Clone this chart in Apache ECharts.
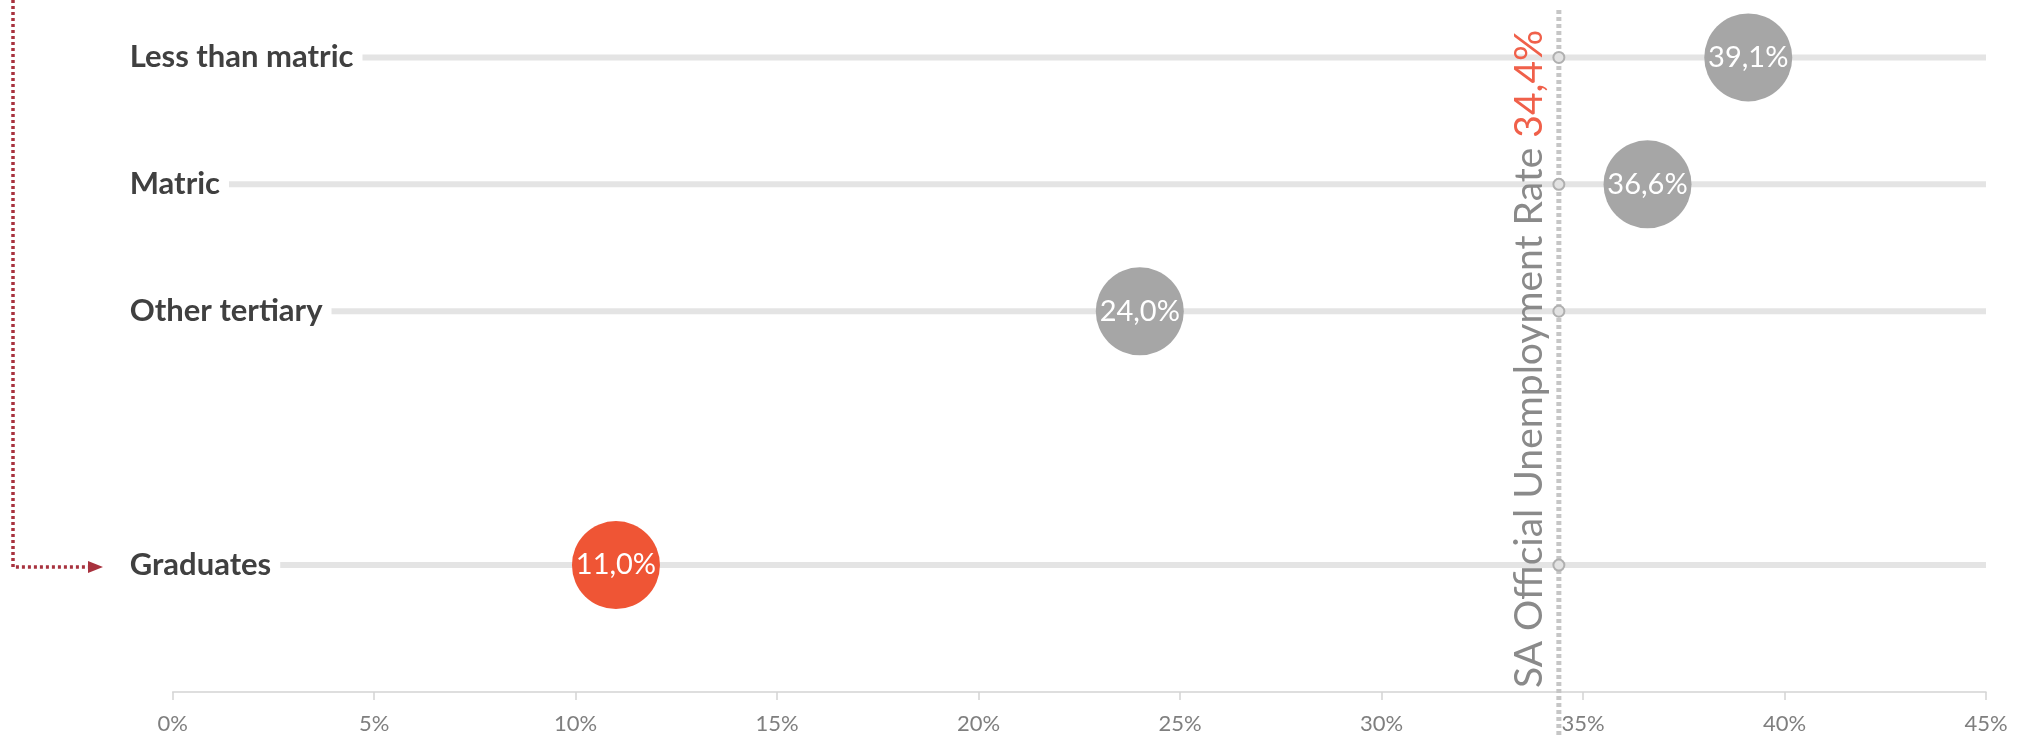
<!DOCTYPE html>
<html><head><meta charset="utf-8">
<script src="https://cdn.jsdelivr.net/npm/echarts@6/dist/echarts.min.js"></script>
<style>html,body{margin:0;padding:0;background:#fff}#c{width:2021px;height:736px}</style>
</head><body><div id="c"></div>
<script>
// ---- data ----
const categories = ['Less than matric', 'Matric', 'Other tertiary', '', 'Graduates'];
const rates = [39.1, 36.6, 24.0, null, 11.0];
const highlightCategory = 'Graduates';
const officialRate = 34.4;
const referenceLabel = 'SA Official Unemployment Rate';
const xMin = 0, xMax = 45, xStep = 5;

// ---- helpers ----
const fmt = v => v.toFixed(1).replace('.', ',') + '%';
const rowY = i => categories.length - i;
const rows = categories.map((c, i) => ({ name: c, y: rowY(i), v: rates[i] })).filter(r => r.name);
const yTop = categories.length + 0.374;

const FONT = 'Lato, "Open Sans", sans-serif';
const GREY = '#a6a6a6', RED = '#ef5535', DARKRED = '#a8323e';

const chart = echarts.init(document.getElementById('c'), null, { renderer: 'canvas' });

const option = {
  animation: false,
  backgroundColor: '#fff',
  grid: { left: 172.7, right: 35, top: 10, bottom: 44, containLabel: false, outerBoundsMode: 'none' },
  xAxis: {
    type: 'value', min: xMin, max: xMax, interval: xStep,
    axisLine: { show: true, onZero: false, lineStyle: { color: '#d4d4d4', width: 1.5 } },
    axisTick: { show: true, length: 8, lineStyle: { color: '#d4d4d4', width: 1.5 } },
    axisLabel: { formatter: '{value}%', color: '#7f7f7f', fontSize: 22, fontFamily: FONT, margin: 21 },
    splitLine: { show: false }
  },
  yAxis: { type: 'value', min: 0, max: yTop, show: false },
  series: [
    {
      // row guide lines + category labels
      type: 'custom', z: 1, silent: true,
      data: rows.map(r => [xMax, r.y]),
      encode: { x: 0, y: 1 },
      renderItem(params, api) {
        const r = rows[params.dataIndex];
        const s = api.coord([xMin, api.value(1)]);
        const e = api.coord([api.value(0), api.value(1)]);
        return {
          type: 'group', children: [
            { type: 'line', shape: { x1: s[0], y1: s[1], x2: e[0], y2: e[1] },
              style: { stroke: '#e4e4e4', lineWidth: 6 } },
            { type: 'text', x: s[0] - 43, y: s[1], z2: 10,
              style: { text: r.name, fill: '#404040', font: 'bold 31px ' + FONT,
                align: 'left', verticalAlign: 'middle', backgroundColor: '#fff', padding: [4, 9, 4, 0] } }
          ]
        };
      }
    },
    {
      // official rate reference line + rotated label
      type: 'custom', z: 2, silent: true, clip: false,
      data: [[officialRate, yTop]],
      encode: { x: 0, y: 1 },
      renderItem(params, api) {
        const top = api.coord([api.value(0), api.value(1)]);
        const bottomY = api.getHeight();
        return {
          type: 'group', children: [
            { type: 'line', shape: { x1: top[0], y1: top[1], x2: top[0], y2: bottomY },
              style: { stroke: '#c6c6c6', lineWidth: 5, lineDash: [4, 3] } },
            { type: 'text', x: top[0] - 10, y: bottomY - 48, rotation: Math.PI / 2,
              style: {
                text: '{a|' + referenceLabel + ' }{b|' + fmt(api.value(0)) + '}',
                align: 'left', verticalAlign: 'bottom',
                rich: {
                  a: { fill: '#8a8a8a', fontSize: 39, fontFamily: FONT },
                  b: { fill: '#f0604a', fontSize: 39, fontFamily: FONT }
                }
              } }
          ]
        };
      }
    },
    {
      // small markers where the reference line crosses each row
      type: 'scatter', z: 3, silent: true,
      symbol: 'circle', symbolSize: 11,
      itemStyle: { color: '#e2e2e2', borderColor: '#b0b0b0', borderWidth: 2, opacity: 1 },
      data: rows.map(r => [officialRate, r.y])
    },
    {
      type: 'scatter', z: 4, silent: true,
      symbol: 'circle', symbolSize: 88,
      data: rows.filter(r => r.v != null).map(r => ({
        value: [r.v, r.y],
        itemStyle: { color: r.name === highlightCategory ? RED : GREY, opacity: 1 }
      })),
      label: {
        show: true, position: 'inside', color: '#fff', fontSize: 29, fontFamily: FONT,
        formatter: p => fmt(p.value[0])
      }
    }
  ]
};
chart.setOption(option);

// annotation arrow pointing to highlighted row
const hi = rows.find(r => r.name === highlightCategory);
const gy = chart.convertToPixel({ yAxisIndex: 0 }, hi.y) + 2;
chart.setOption({
  graphic: [
    { type: 'polyline', silent: true, shape: { points: [[13, 0], [13, gy], [90, gy]] },
      style: { stroke: DARKRED, lineWidth: 3.5, lineDash: [3, 3], fill: 'none' } },
    { type: 'polygon', silent: true, shape: { points: [[88, gy - 6], [103, gy], [88, gy + 6]] },
      style: { fill: DARKRED } }
  ]
});
</script></body></html>
